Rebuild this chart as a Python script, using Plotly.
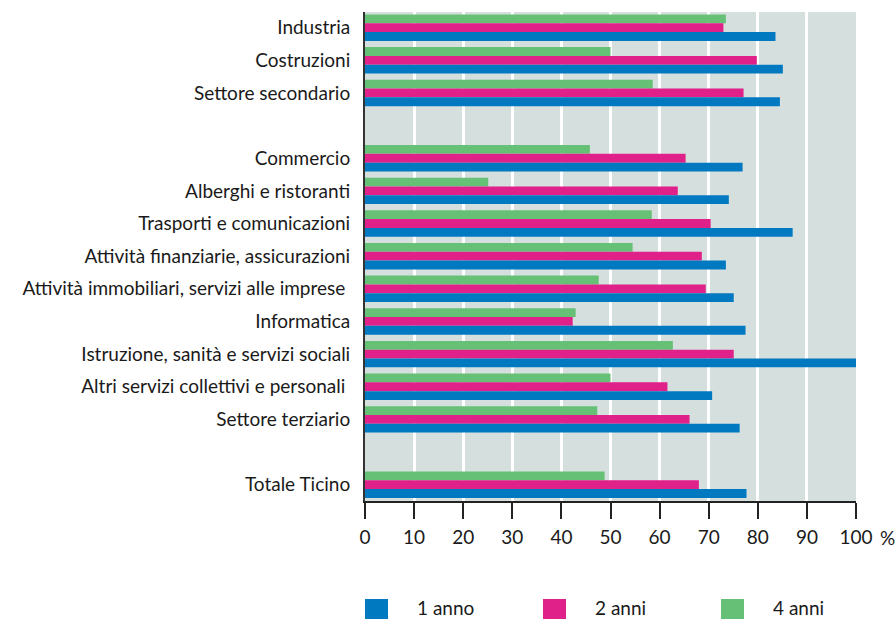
import plotly.graph_objects as go

# Sector labels, top to bottom; two spacer rows separate the blocks
categories = [
    "Industria",
    "Costruzioni",
    "Settore secondario",
    "gap_1",
    "Commercio",
    "Alberghi e ristoranti",
    "Trasporti e comunicazioni",
    "Attività finanziarie, assicurazioni",
    "Attività immobiliari, servizi alle imprese\u00a0",
    "Informatica",
    "Istruzione, sanità e servizi sociali",
    "Altri servizi collettivi e personali\u00a0",
    "Settore terziario",
    "gap_2",
    "Totale Ticino",
]
sectors = [c for c in categories if not c.startswith("gap_")]

# Share (%) by duration
anno_1 = [83.6, 85.1, 84.5, 76.9, 74.1, 87.1, 73.5, 75.1, 77.5, 100.0, 70.7, 76.3, 77.7]
anni_2 = [73.0, 79.8, 77.1, 65.3, 63.7, 70.4, 68.6, 69.4, 42.3, 75.1, 61.6, 66.1, 68.0]
anni_4 = [73.5, 50.0, 58.6, 45.8, 25.1, 58.4, 54.5, 47.6, 42.9, 62.7, 50.0, 47.3, 48.8]

series_names = ["1 anno", "2 anni", "4 anni"]
series_values = [anno_1, anni_2, anni_4]
series_colors = ["#0079c1", "#e0218a", "#66c075"]

x_ticks = list(range(0, 101, 10))
x_ticktext = [str(v) for v in x_ticks]

FONT = "Lato, 'Open Sans', sans-serif"
FS = 19

fig = go.Figure()
# drawn longest-duration first so it sits on top of each group
for name, vals, col in reversed(list(zip(series_names, series_values, series_colors))):
    fig.add_trace(go.Bar(
        y=sectors, x=vals, name=name, orientation="h",
        marker=dict(color=col, line=dict(width=0)),
        showlegend=False,
    ))

fig.update_layout(
    width=895, height=619,
    margin=dict(l=365, r=39, t=12, b=118),
    paper_bgcolor="white",
    plot_bgcolor="#d5dfde",
    barmode="group",
    bargap=0.19,
    bargroupgap=0,
    font=dict(family=FONT, size=FS, color="#1a1a1a"),
    xaxis=dict(
        range=[0, 100],
        tickvals=x_ticks, ticktext=x_ticktext,
        showgrid=True, gridcolor="white", gridwidth=2.5,
        zeroline=False,
        showline=True, linecolor="#222222", linewidth=1.5,
        ticks="outside", ticklen=16, tickwidth=1.5, tickcolor="#222222",
        ticklabelstandoff=2,
        tickfont=dict(size=FS),
        fixedrange=True,
    ),
    yaxis=dict(
        type="category",
        categoryorder="array", categoryarray=categories,
        tickvals=sectors, ticktext=sectors,
        range=[len(categories) - 0.5, -0.48],
        showgrid=False, zeroline=False,
        showline=True, linecolor="#333333", linewidth=2,
        ticks="", ticklabelstandoff=9,
        tickfont=dict(size=FS),
    ),
)

# percent sign after the last tick label
fig.add_annotation(
    xref="paper", yref="paper", x=1, y=0, xshift=22, yshift=-36,
    text="%", showarrow=False, font=dict(size=FS), xanchor="left", yanchor="middle",
)

# legend keys along the bottom
legend_x = [365, 543, 721]
for name, col, lx in zip(series_names, series_colors, legend_x):
    fig.add_shape(
        type="rect", xref="paper", yref="paper",
        x0=(lx - 365) / 491, x1=(lx + 23 - 365) / 491,
        y0=(500 - 619) / 489, y1=(500 - 598) / 489,
        fillcolor=col, line=dict(width=0),
    )
    fig.add_annotation(
        xref="paper", yref="paper", x=(lx + 50 - 365) / 491, y=(500 - 606) / 489,
        text=name, showarrow=False, xanchor="left", yanchor="middle",
        font=dict(size=FS),
    )

fig.write_html("out.html")
